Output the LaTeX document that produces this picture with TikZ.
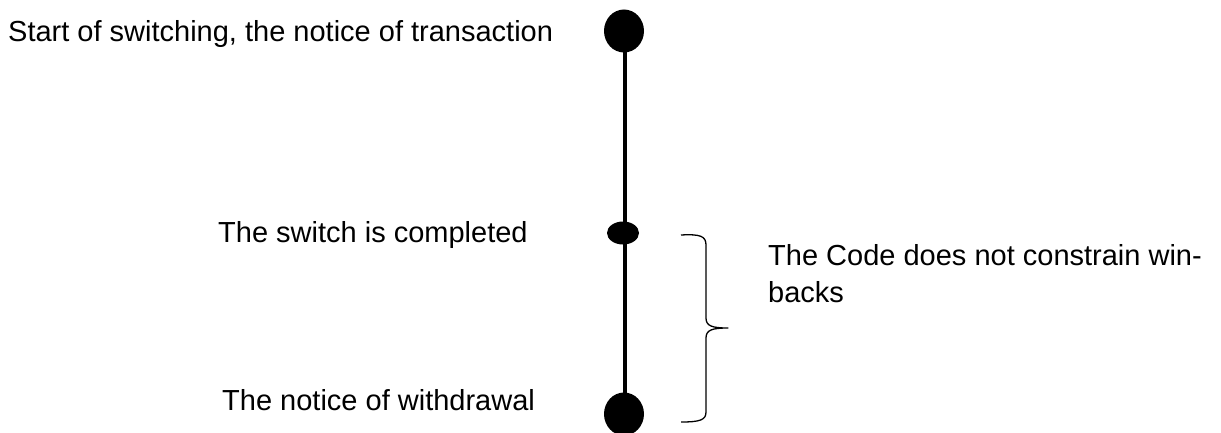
\documentclass[tikz,border=0pt]{standalone}
\usepackage{fontspec}
\setmainfont{Liberation Sans}
\begin{document}
\begin{tikzpicture}[x=1pt,y=-1pt,
  lbl/.style={anchor=base west,inner sep=0pt,font=\fontsize{29}{37}\selectfont}]
\useasboundingbox (0,0) rectangle (1221,433);
% timeline
\coordinate (t) at (624,31);
\coordinate (m) at (623,233);
\coordinate (b) at (624,414);
\draw[line width=4pt] (625,31) -- (625,413);
\fill (t) ellipse [x radius=20, y radius=21.5];
\fill (m) ellipse [x radius=16, y radius=11.5];
\fill (b) ellipse [x radius=20, y radius=21.5];
% labels
\node[lbl] (start) at (8,42) {Start of switching, the notice of transaction};
\node[lbl] (done) at (218,242) {The switch is completed};
\node[lbl] (wd) at (222,410) {The notice of withdrawal};
\node[lbl] (code1) at (768,265) {The Code does not constrain win-};
\node[lbl] (code2) at (768,302) {backs};
% brace
\draw[line width=1.3pt,line join=round]
  (681,235) .. controls (700,234) and (706,236) .. (706,245)
  -- (706,318) .. controls (706,326) and (712,328) .. (728,328)
  .. controls (712,328) and (706,330) .. (706,338)
  -- (706,412) .. controls (706,420) and (700,422) .. (681,422);
\end{tikzpicture}
\end{document}
